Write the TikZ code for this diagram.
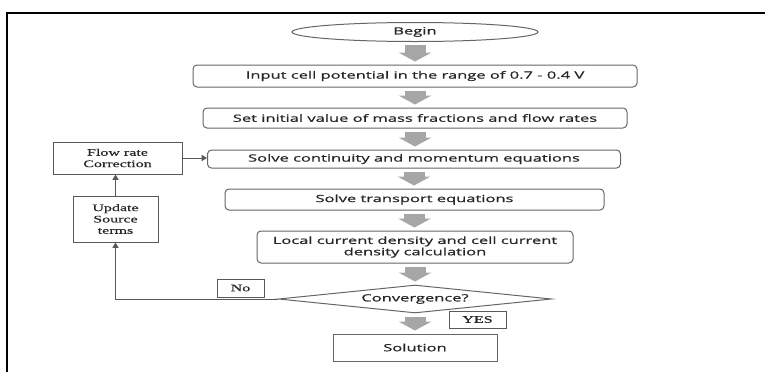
\documentclass[tikz,border=0pt]{standalone}
\usepackage{fontspec}
\usepackage{tikz}
\usetikzlibrary{shapes,arrows.meta,positioning,calc}
\newfontfamily\boxfont{Open Sans}[FakeStretch=1.65,FakeBold=0.8]
\newfontfamily\notefont{Liberation Serif}[FakeStretch=1.6,FakeBold=0.5]

\begin{document}
\begin{tikzpicture}[x=0.75pt,y=-0.75pt,
    stepbox/.style={draw=black!60, line width=0.75pt, rounded corners=3pt, inner sep=0pt,
        font=\boxfont\fontsize{7.5}{8.5}\selectfont, text=black!85, align=center},
    notebox/.style={draw=black!65, line width=0.75pt, inner sep=0pt,
        font=\notefont\fontsize{7.5}{8.5}\selectfont, text=black!85, align=center},
    flowarrow/.style={draw=black!35, line width=15.75pt,
        -{Triangle[length=6.75pt,width=24.75pt,line width=0pt]},
        shorten <=2.25pt, shorten >=2.25pt},
    loopline/.style={draw=black!65, line width=0.75pt, -{Triangle[length=4pt,width=4.5pt]}}]
    \useasboundingbox (0,0) rectangle (765,372);

    % Frame
    \draw[line width=1.5pt] (7,372) -- (7,13) -- (765,13);

    % Main column
    \node[stepbox, ellipse, sharp corners, minimum width=184.5pt, minimum height=14.25pt] (begin) at (415,32) {Begin};
    \node[stepbox, minimum width=333pt, minimum height=16.5pt] (input) at (415,76) {Input cell potential in the range of 0.7 - 0.4 V};
    \node[stepbox, minimum width=318pt, minimum height=15pt] (init) at (415,118) {Set initial value of mass fractions and flow rates};
    \node[stepbox, minimum width=309.75pt, minimum height=13.5pt] (cont) at (414,159) {Solve continuity and momentum equations};
    \node[stepbox, minimum width=284.25pt, minimum height=15.75pt] (transp) at (414.5,199.5) {Solve transport equations};
    \node[stepbox, minimum width=237pt, minimum height=24pt] (local) at (415,247) {Local current density and cell current\\density calculation};
    \node[stepbox, diamond, aspect=9.75, sharp corners, minimum width=204.75pt, minimum height=21pt] (conv) at (415,299) {Convergence?};
    \node[stepbox, sharp corners, minimum width=123pt, minimum height=20.25pt] (sol) at (415,347.5) {Solution};

    % Side boxes and labels
    \node[notebox, minimum width=96.75pt, minimum height=24pt] (flow) at (117.5,158) {Flow rate\\Correction};
    \node[notebox, minimum width=63.75pt, minimum height=34.5pt] (update) at (115.5,219) {Update\\Source\\terms};
    \node[notebox, minimum width=35.25pt, minimum height=13.5pt] (no) at (240.5,288) {No};
    \node[notebox, minimum width=42.75pt, minimum height=12.75pt] (yes) at (477.5,319.5) {YES};

    % Block arrows
    \foreach \a/\b in {begin/input, input/init, init/cont, cont/transp, transp/local, local/conv, conv/sol}
        \draw[flowarrow] (\a.south) -- (\a.south |- \b.north);

    % Loop back
    \draw[loopline] (conv.west) -| (update.south);
    \draw[loopline] (update.north) -- (update.north |- flow.south);
    \draw[loopline] (flow.east) -- (flow.east -| cont.west);
\end{tikzpicture}
\end{document}
